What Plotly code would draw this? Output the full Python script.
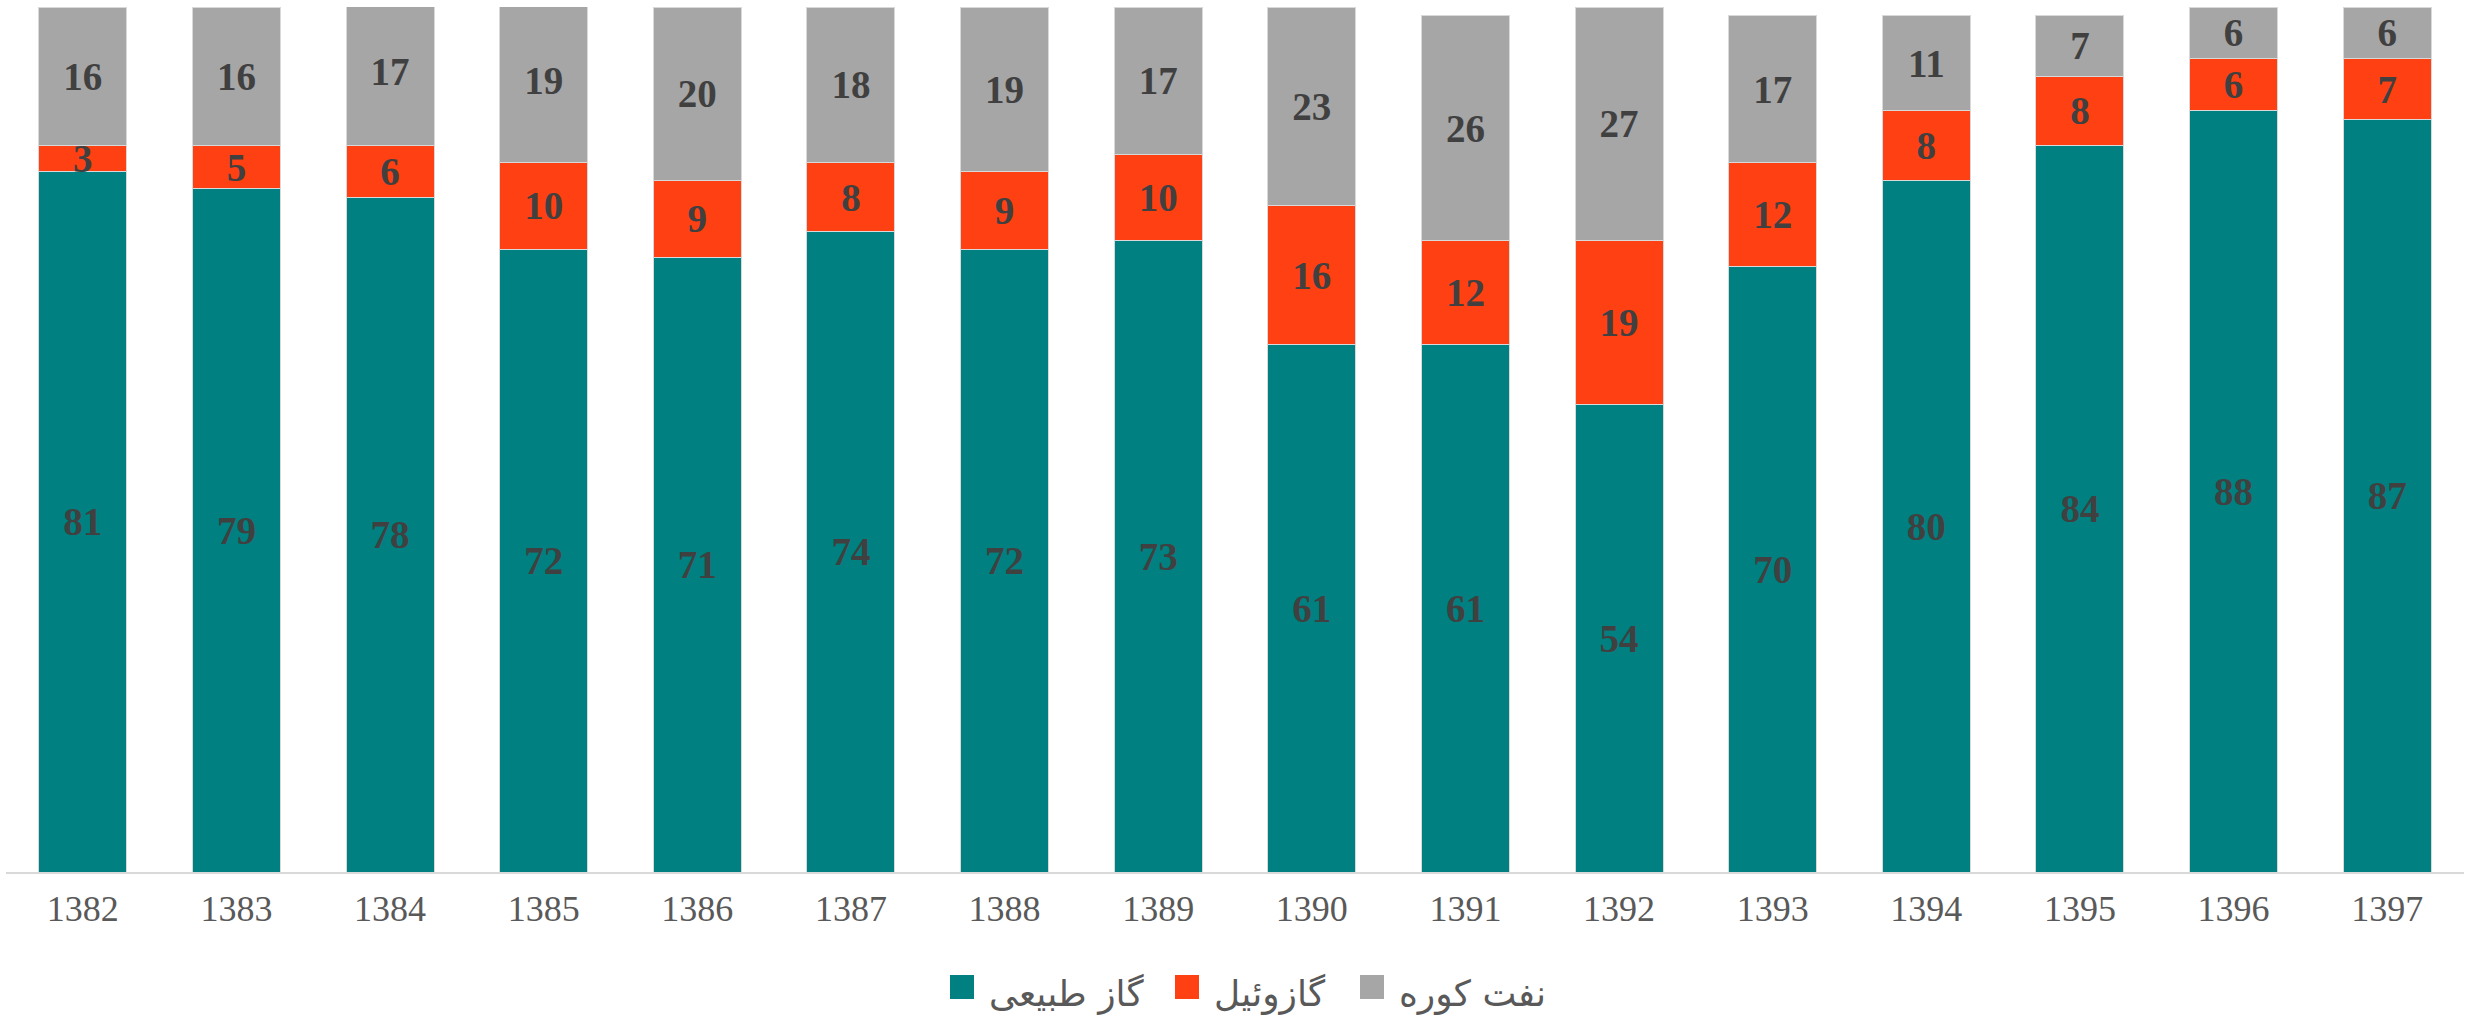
import plotly.graph_objects as go

years = ["1382", "1383", "1384", "1385", "1386", "1387", "1388", "1389",
         "1390", "1391", "1392", "1393", "1394", "1395", "1396", "1397"]
gas = [81, 79, 78, 72, 71, 74, 72, 73, 61, 61, 54, 70, 80, 84, 88, 87]
diesel = [3, 5, 6, 10, 9, 8, 9, 10, 16, 12, 19, 12, 8, 8, 6, 7]
fueloil = [16, 16, 17, 19, 20, 18, 19, 17, 23, 26, 27, 17, 11, 7, 6, 6]

names = ["گاز طبیعی", "گازوئیل", "نفت کوره"]
colors = ["#008080", "#FF4013", "#A6A6A6"]

W, H = 2465, 1022
ml, mr, mt, mb = 6, 1, 7, 150
PW = W - ml - mr
PH = H - mt - mb


def px_x(px):
    return (px - ml) / PW


def px_y(py):
    return (H - mb - py) / PH


fig = go.Figure()
for vals, name, col in zip([gas, diesel, fueloil], names, colors):
    fig.add_trace(go.Bar(
        x=years, y=vals, name=name,
        marker=dict(color=col, line=dict(color="#d9d9d9", width=1)),
        text=vals, texttemplate="%{text}",
        textposition="inside", insidetextanchor="middle", textangle=0,
        textfont=dict(family="Liberation Serif", size=39, color="#404040", weight="bold"),
        hoverinfo="skip", showlegend=False,
    ))

# legend drawn as squares + labels (left edges of square and text, in px)
legend_sq_x = [950, 1175, 1360]
legend_tx_x = [987, 1212, 1397]
shapes = []
annotations = []
for sx, tx, name, col in zip(legend_sq_x, legend_tx_x, names, colors):
    shapes.append(dict(
        type="rect", xref="paper", yref="paper",
        x0=px_x(sx), x1=px_x(sx + 24), y0=px_y(999), y1=px_y(975),
        fillcolor=col, line=dict(width=0),
    ))
    annotations.append(dict(
        text=name, xref="paper", yref="paper", x=px_x(tx), y=px_y(994),
        xanchor="left", yanchor="middle", showarrow=False,
        font=dict(family="DejaVu Sans", size=36, color="#595959"),
    ))

fig.update_layout(
    width=W, height=H,
    margin=dict(l=ml, r=mr, t=mt, b=mb),
    barmode="stack", bargap=0.427,
    plot_bgcolor="white", paper_bgcolor="white",
    uniformtext=dict(minsize=39, mode="show"),
    xaxis=dict(
        type="category", showgrid=False, showline=True, linecolor="#d9d9d9",
        linewidth=2, ticks="", ticklen=0, ticklabelstandoff=4,
        tickfont=dict(family="Liberation Serif", size=36, color="#595959"),
    ),
    yaxis=dict(range=[0, 100], visible=False, showgrid=False, zeroline=False),
    shapes=shapes,
    annotations=annotations,
    showlegend=False,
)

fig.write_html("out.html", config={"displayModeBar": False},
               post_script="document.body.style.margin='0';")
